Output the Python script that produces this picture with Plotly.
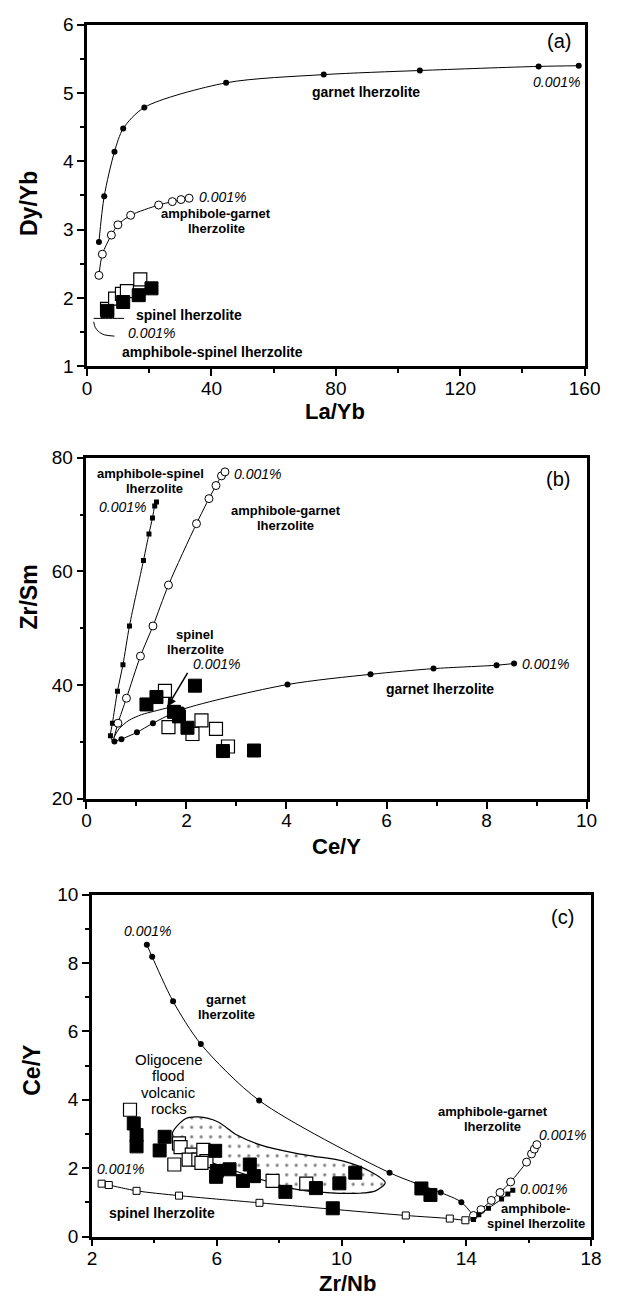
import plotly.graph_objects as go

# ---------------- Panel (a): Dy/Yb vs La/Yb ----------------
a_garnet_x = [3.8, 5.5, 8.8, 11.6, 18.4, 44.7, 76.1, 107.0, 145.2, 158.1]
a_garnet_y = [2.82, 3.49, 4.14, 4.48, 4.79, 5.15, 5.27, 5.33, 5.39, 5.40]
a_amphgar_x = [3.8, 4.9, 7.8, 9.9, 14.0, 23.0, 27.4, 30.2, 32.8]
a_amphgar_y = [2.33, 2.64, 2.92, 3.07, 3.21, 3.36, 3.41, 3.44, 3.46]
a_spinel_x = [2.1, 6.0, 11.9]
a_spinel_y = [1.70, 1.70, 1.70]
a_amphsp_x = [2.1, 2.6, 3.6, 5.5, 8.8]
a_amphsp_y = [1.65, 1.57, 1.51, 1.46, 1.44]
a_open_x = [6.4, 9.0, 11.2, 12.8, 17.1]
a_open_y = [1.84, 1.99, 2.06, 2.10, 2.27]
a_filled_x = [6.5, 11.6, 16.6, 20.7]
a_filled_y = [1.81, 1.94, 2.04, 2.14]

# ---------------- Panel (b): Zr/Sm vs Ce/Y ----------------
b_source = [0.53, 30.0]
b_amphsp_x = [0.48, 0.52, 0.62, 0.73, 0.86, 1.14, 1.25, 1.32, 1.365, 1.40]
b_amphsp_y = [31.1, 33.3, 38.9, 43.6, 50.4, 61.9, 66.6, 69.4, 71.5, 72.2]
b_amphgar_x = [0.63, 0.80, 1.08, 1.33, 1.64, 2.20, 2.45, 2.59, 2.70, 2.77]
b_amphgar_y = [33.3, 37.7, 45.1, 50.4, 57.6, 68.4, 72.8, 75.1, 76.8, 77.5]
b_garnet_x = [0.56, 0.70, 1.01, 1.33, 1.91, 4.02, 5.68, 6.94, 8.20, 8.55]
b_garnet_y = [30.1, 30.5, 31.7, 33.3, 35.7, 40.1, 41.9, 42.9, 43.5, 43.8]
b_spinel_x = [0.55, 0.65, 0.85, 1.10, 1.35, 1.62]
b_spinel_y = [30.8, 32.3, 33.8, 34.8, 35.4, 36.0]
b_open_x = [1.57, 1.64, 2.30, 2.12, 2.59, 2.83]
b_open_y = [39.0, 32.6, 33.8, 31.4, 32.3, 29.2]
b_filled_x = [2.17, 1.40, 1.20, 1.75, 1.85, 2.02, 2.73, 3.35]
b_filled_y = [39.9, 37.9, 36.6, 35.3, 34.5, 32.5, 28.4, 28.5]

# ---------------- Panel (c): Ce/Y vs Zr/Nb ----------------
c_garnet_x = [3.76, 3.93, 4.60, 5.49, 7.36, 11.54, 13.18, 13.84, 14.25]
c_garnet_y = [8.53, 8.18, 6.88, 5.63, 3.98, 1.87, 1.29, 1.01, 0.58]
c_amphgar_x = [14.23, 14.47, 14.80, 15.08, 15.42, 15.93, 16.09, 16.18, 16.26]
c_amphgar_y = [0.62, 0.79, 1.06, 1.29, 1.60, 2.18, 2.42, 2.56, 2.69]
c_amphsp_x = [14.23, 14.40, 14.71, 15.13, 15.33, 15.49]
c_amphsp_y = [0.50, 0.64, 0.83, 1.10, 1.25, 1.36]
c_spinel_x = [2.31, 2.54, 3.43, 4.79, 7.37, 12.06, 13.47, 13.97]
c_spinel_y = [1.55, 1.51, 1.34, 1.20, 0.99, 0.62, 0.53, 0.48]
c_field_x = [4.58, 5.0, 5.41, 6.03, 6.65, 7.37, 8.51, 9.13, 10.06, 10.89, 11.40,
             11.09, 10.57, 9.54, 8.51, 7.5, 6.5, 5.5, 4.8, 4.58]
c_field_y = [3.02, 3.45, 3.50, 3.36, 2.97, 2.69, 2.44, 2.35, 2.21, 1.92, 1.58,
             1.34, 1.27, 1.29, 1.39, 1.65, 1.95, 2.30, 2.70, 3.02]
c_open_x = [3.22, 4.79, 4.84, 4.64, 5.20, 5.10, 5.41, 5.57, 5.67, 5.51, 7.79, 8.87]
c_open_y = [3.71, 2.73, 2.62, 2.11, 2.40, 2.25, 2.25, 2.54, 2.21, 2.16, 1.63, 1.55]
c_filled_x = [3.34, 3.43, 3.43, 4.33, 4.17, 5.95, 6.00, 5.98, 6.41, 7.06, 7.19, 6.84,
              8.20, 9.18, 9.93, 10.44, 9.72, 12.56, 12.85]
c_filled_y = [3.31, 2.97, 2.64, 2.92, 2.52, 2.51, 1.92, 1.75, 1.97, 2.11, 1.77, 1.63,
              1.31, 1.42, 1.56, 1.87, 0.83, 1.41, 1.22]

W, H = 619, 1308
FONT = "Liberation Sans, Arial, Helvetica, sans-serif"
BLACK = "black"

fig = go.Figure()


def line(x, y, ax, width=1.0):
    fig.add_trace(go.Scatter(x=x, y=y, mode="lines", line=dict(color=BLACK, width=width, shape="spline", smoothing=0.8),
                             xaxis=ax[0], yaxis=ax[1], showlegend=False, hoverinfo="skip"))


def markers(x, y, ax, symbol, size, fill, lw=1.0):
    fig.add_trace(go.Scatter(x=x, y=y, mode="markers",
                             marker=dict(symbol=symbol, size=size, color=fill, line=dict(color=BLACK, width=lw)),
                             xaxis=ax[0], yaxis=ax[1], showlegend=False))


A = ("x", "y")
B = ("x2", "y2")
C = ("x3", "y3")

# panel a
line(a_garnet_x, a_garnet_y, A)
markers(a_garnet_x, a_garnet_y, A, "circle", 6, BLACK, 0)
line(a_amphgar_x, a_amphgar_y, A)
markers(a_amphgar_x, a_amphgar_y, A, "circle", 8, "white")
line(a_spinel_x, a_spinel_y, A)
line(a_amphsp_x, a_amphsp_y, A)
markers(a_open_x, a_open_y, A, "square", 13, "white", 1.2)
markers(a_filled_x, a_filled_y, A, "square", 13, BLACK, 1)

# panel b
line([b_source[0]] + b_amphsp_x, [b_source[1]] + b_amphsp_y, B)
markers(b_amphsp_x, b_amphsp_y, B, "square", 5, BLACK, 0)
line([b_source[0]] + b_amphgar_x, [b_source[1]] + b_amphgar_y, B)
markers(b_amphgar_x, b_amphgar_y, B, "circle", 8, "white")
line(b_garnet_x, b_garnet_y, B)
markers(b_garnet_x, b_garnet_y, B, "circle", 6, BLACK, 0)
line(b_spinel_x, b_spinel_y, B)
markers(b_open_x, b_open_y, B, "square", 13, "white", 1.2)
markers(b_filled_x, b_filled_y, B, "square", 13, BLACK, 1)

# panel c
fig.add_trace(go.Scatter(x=c_field_x, y=c_field_y, mode="lines", fill="toself",
                         fillcolor="white",
                         fillpattern=dict(shape=".", size=9.5, solidity=0.09, fgcolor=BLACK, bgcolor="white"),
                         line=dict(color=BLACK, width=1.2, shape="spline", smoothing=0.8),
                         xaxis="x3", yaxis="y3", showlegend=False, hoverinfo="skip"))
line(c_garnet_x, c_garnet_y, C)
markers(c_garnet_x[:-1], c_garnet_y[:-1], C, "circle", 6, BLACK, 0)
line(c_spinel_x + [c_amphsp_x[0]], c_spinel_y + [c_amphsp_y[0]], C)
markers(c_spinel_x, c_spinel_y, C, "square", 7, "white")
line(c_amphgar_x, c_amphgar_y, C)
markers(c_amphgar_x, c_amphgar_y, C, "circle", 8, "white")
line(c_amphsp_x, c_amphsp_y, C)
markers(c_amphsp_x, c_amphsp_y, C, "square", 5, BLACK, 0)
markers(c_open_x, c_open_y, C, "square", 13, "white", 1.2)
markers(c_filled_x, c_filled_y, C, "square", 13, BLACK, 1)


def px_dom(a, b, total, flip=False):
    if flip:
        return [1 - b / total, 1 - a / total]
    return [a / total, b / total]


def minor(dt):
    return dict(ticks="outside", ticklen=4, tickwidth=2, tickcolor=BLACK, dtick=dt, showgrid=False)


def axis_common(**kw):
    d = dict(showgrid=False, zeroline=False, showline=True, linecolor=BLACK, linewidth=2.5, mirror=True,
             ticks="outside", ticklen=7, tickwidth=2, tickcolor=BLACK,
             tickfont=dict(family=FONT, size=19, color=BLACK))
    d.update(kw)
    return d


fig.update_layout(
    width=W, height=H, autosize=False,
    margin=dict(l=0, r=0, t=0, b=0),
    paper_bgcolor="white", plot_bgcolor="white",
    font=dict(family=FONT, color=BLACK),
    xaxis=axis_common(domain=px_dom(85, 600, W), range=[0, 160], tick0=0, dtick=40, minor=minor(20),
                      ticklabelstandoff=-4, anchor="y"),
    yaxis=axis_common(domain=px_dom(15, 362, H, True), range=[1, 6], tick0=1, dtick=1, minor=minor(0.5), anchor="x"),
    xaxis2=axis_common(domain=px_dom(84.3, 602, W), range=[0, 10], tick0=0, dtick=2, minor=minor(1),
                       ticklabelstandoff=-4, anchor="y2"),
    yaxis2=axis_common(domain=px_dom(455, 801.7, H, True), range=[20, 80], tick0=20, dtick=20, minor=minor(10), anchor="x2"),
    xaxis3=axis_common(domain=px_dom(90, 606.7, W), range=[2, 18], tick0=2, dtick=4, minor=minor(2),
                       ticklabelstandoff=-4, anchor="y3"),
    yaxis3=axis_common(domain=px_dom(899, 1246.7, H, True), range=[0, 10], tick0=0, dtick=2, minor=minor(1), anchor="x3"),
)

ann = []


def label(ax, x, y, text, size=13, bold=True, italic=False, xanchor="center"):
    t = text
    if italic:
        t = "<i>" + t + "</i>"
    if bold:
        t = "<b>" + t + "</b>"
    ann.append(dict(xref=ax[0], yref=ax[1], x=x, y=y, text=t, showarrow=False, xanchor=xanchor, yanchor="middle",
                    font=dict(family=FONT, size=size, color=BLACK)))


def title(px, py, text, angle=0, size=23):
    ann.append(dict(xref="paper", yref="paper", x=px / W, y=1 - py / H, text="<b>" + text + "</b>", showarrow=False,
                    xanchor="center", yanchor="middle", textangle=angle, font=dict(family=FONT, size=size, color=BLACK)))


# panel a labels (y values from pixel rows; 2-line labels spaced ~15 px)
label(A, 151.9, 5.755, "(a)", size=20, bold=False)
label(A, 151.0, 5.16, "0.001%", size=14, bold=False, italic=True)
label(A, 89.8, 5.02, "garnet lherzolite", size=14)
label(A, 35.4, 3.48, "0.001%", size=14, bold=False, italic=True, xanchor="left")
label(A, 41.6, 3.23, "amphibole-garnet")
label(A, 41.6, 3.01, "lherzolite")
label(A, 32.9, 1.75, "spinel lherzolite", size=14)
label(A, 20.8, 1.49, "0.001%", size=14, bold=False, italic=True)
label(A, 40.4, 1.21, "amphibole-spinel lherzolite", size=14)

# panel b labels
label(B, 9.43, 76.2, "(b)", size=20, bold=False)
label(B, 1.29, 77.2, "amphibole-spinel")
label(B, 1.37, 74.6, "lherzolite")
label(B, 0.73, 71.3, "0.001%", size=14, bold=False, italic=True)
label(B, 2.91, 77.2, "0.001%", size=14, bold=False, italic=True, xanchor="left")
label(B, 3.99, 70.7, "amphibole-garnet")
label(B, 3.99, 68.1, "lherzolite")
label(B, 2.18, 48.9, "spinel")
label(B, 2.18, 46.3, "lherzolite")
label(B, 2.60, 43.65, "0.001%", size=14, bold=False, italic=True)
label(B, 8.66, 43.8, "0.001%", size=14, bold=False, italic=True, xanchor="left")
label(B, 7.06, 39.3, "garnet lherzolite", size=14)
ann.append(dict(xref="x2", yref="y2", axref="x2", ayref="y2", x=1.62, y=36.2, ax=2.04, ay=42.4,
                text="", showarrow=True, arrowhead=2, arrowsize=1.2, arrowwidth=1.5, arrowcolor=BLACK))

# panel c labels
label(C, 17.07, 9.34, "(c)", size=20, bold=False)
label(C, 3.77, 8.94, "0.001%", size=14, bold=False, italic=True)
label(C, 6.31, 6.92, "garnet")
label(C, 6.31, 6.48, "lherzolite")
label(C, 4.46, 5.18, "Oligocene", size=15, bold=False)
label(C, 4.46, 4.70, "flood", size=15, bold=False)
label(C, 4.46, 4.22, "volcanic", size=15, bold=False)
label(C, 4.46, 3.74, "rocks", size=15, bold=False)
label(C, 2.90, 1.98, "0.001%", size=14, bold=False, italic=True)
label(C, 4.23, 0.69, "spinel lherzolite", size=14)
label(C, 14.84, 3.66, "amphibole-garnet")
label(C, 14.84, 3.22, "lherzolite")
label(C, 17.07, 2.98, "0.001%", size=14, bold=False, italic=True)
label(C, 16.48, 1.40, "0.001%", size=14, bold=False, italic=True)
label(C, 16.23, 0.82, "amphibole-")
label(C, 16.23, 0.38, "spinel lherzolite")

# axis titles
title(25, 197, "Dy/Yb", angle=-90)
title(342, 408, "La/Yb", size=22)
title(25, 597, "Zr/Sm", angle=-90)
title(343, 850, "Ce/Y", size=22)
title(28, 1078, "Ce/Y", angle=-90)
title(355, 1294, "Zr/Nb", size=22)

fig.update_layout(annotations=ann)
fig.write_html("out.html")
